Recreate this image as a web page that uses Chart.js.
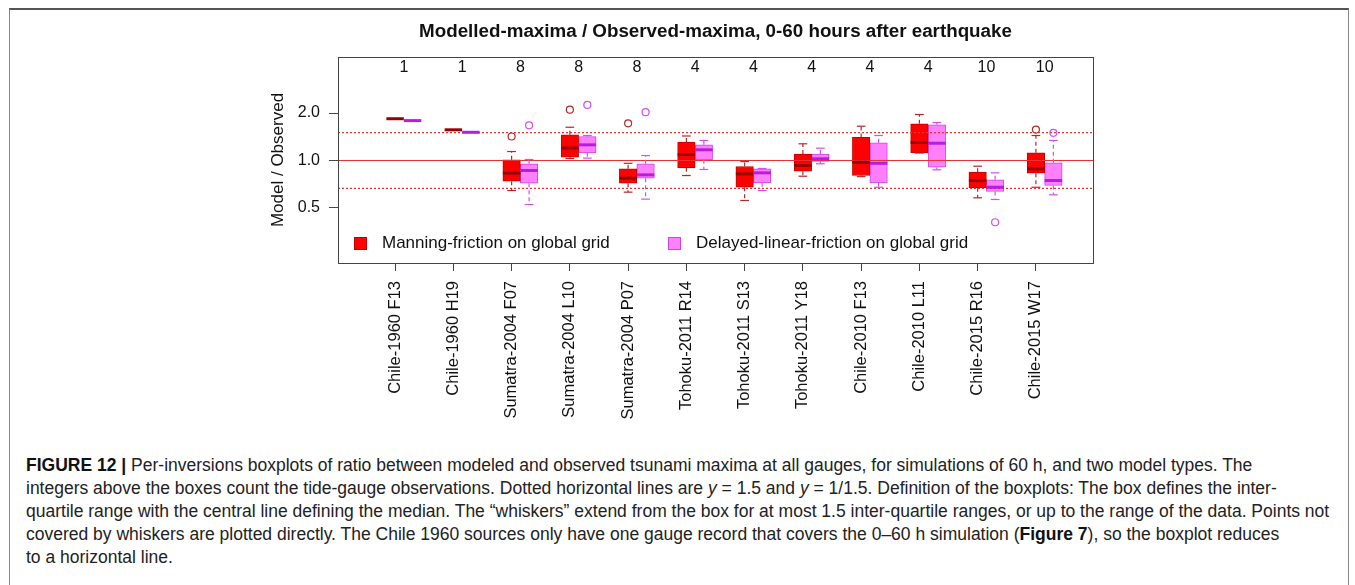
<!DOCTYPE html>
<html>
<head>
<meta charset="utf-8">
<script src="https://cdn.jsdelivr.net/npm/chart.js@4.4.1/dist/chart.umd.min.js"></script>
<style>
  html, body { margin: 0; padding: 0; background: #fff; }
  #wrap { position: relative; width: 1355px; height: 585px; overflow: hidden; }
  #frame { position: absolute; left: 9px; top: 8px; width: 1340px; height: 640px; box-sizing: border-box;
           border-left: 1px solid #888; border-right: 1px solid #888; border-top: 2px solid #555; }
  #chartBox { position: absolute; left: 0; top: 0; width: 1355px; height: 430px; }
  #caption { position: absolute; left: 26px; top: 454px; font-family: "Liberation Sans", Arial, sans-serif;
             font-size: 17.5px; line-height: 23px; color: #222; white-space: nowrap; letter-spacing: 0px; }
  #caption b { color: #111; }
</style>
</head>
<body>
<div id="wrap">
  <div id="frame"></div>
  <div id="chartBox"><canvas id="boxChart" width="1355" height="430"></canvas></div>
  <div id="caption">
    <b>FIGURE 12 |</b> Per-inversions boxplots of ratio between modeled and observed tsunami maxima at all gauges, for simulations of 60 h, and two model types. The<br>
    integers above the boxes count the tide-gauge observations. Dotted horizontal lines are <i>y</i> = 1.5 and <i>y</i> = 1/1.5. Definition of the boxplots: The box defines the inter-<br>
    quartile range with the central line defining the median. The “whiskers” extend from the box for at most 1.5 inter-quartile ranges, or up to the range of the data. Points not<br>
    covered by whiskers are plotted directly. The Chile 1960 sources only have one gauge record that covers the 0–60 h simulation (<b>Figure 7</b>), so the boxplot reduces<br>
    to a horizontal line.
  </div>
</div>
<script>
// data
const categories = ["Chile-1960 F13", "Chile-1960 H19", "Sumatra-2004 F07", "Sumatra-2004 L10",
  "Sumatra-2004 P07", "Tohoku-2011 R14", "Tohoku-2011 S13", "Tohoku-2011 Y18",
  "Chile-2010 F13", "Chile-2010 L11", "Chile-2015 R16", "Chile-2015 W17"]
const gaugeCounts = [1, 1, 8, 8, 8, 4, 4, 4, 4, 4, 10, 10]
const seriesNames = ["Manning-friction on global grid", "Delayed-linear-friction on global grid"]

const manningLow    = [1.84, 1.565, 0.645, 1.03, 0.63, 0.803, 0.558, 0.795, 0.79, 1.115, 0.58, 0.677]
const manningQ1     = [1.84, 1.565, 0.739, 1.05, 0.718, 0.899, 0.677, 0.856, 0.803, 1.119, 0.671, 0.831]
const manningMedian = [1.84, 1.565, 0.831, 1.20, 0.773, 1.09, 0.823, 0.93, 0.975, 1.30, 0.747, 0.886]
const manningQ3     = [1.84, 1.565, 1.01, 1.455, 0.886, 1.31, 0.916, 1.10, 1.40, 1.708, 0.843, 1.119]
const manningHigh   = [1.84, 1.565, 1.14, 1.625, 0.96, 1.43, 0.985, 1.276, 1.65, 1.957, 0.92, 1.44]
const manningOutliers = [[], [], [1.42], [2.10], [1.72], [], [], [], [], [], [], [1.57]]

const delayedLow    = [1.79, 1.51, 0.526, 1.035, 0.569, 0.877, 0.645, 0.953, 0.677, 0.873, 0.566, 0.606]
const delayedQ1     = [1.79, 1.51, 0.718, 1.119, 0.773, 1.01, 0.722, 0.985, 0.722, 0.907, 0.636, 0.694]
const delayedMedian = [1.79, 1.51, 0.864, 1.257, 0.811, 1.169, 0.835, 1.025, 0.96, 1.287, 0.677, 0.747]
const delayedQ3     = [1.79, 1.51, 0.953, 1.42, 0.953, 1.257, 0.886, 1.10, 1.295, 1.683, 0.754, 0.966]
const delayedHigh   = [1.79, 1.51, 1.015, 1.44, 1.075, 1.34, 0.89, 1.197, 1.44, 1.741, 0.835, 1.34]
const delayedOutliers = [[], [], [1.67], [2.25], [2.025], [], [], [], [], [], [0.406], [1.498]]

const yTickValues = [0.5, 1.0, 2.0]
const solidLines = [1.0]
const dottedLines = [1.5, 1 / 1.5]

const FONT = "'Liberation Sans', Arial, sans-serif"
const X_MIN = 0.02, X_MAX = 12.98, PAIR_SHIFT = 0.3

const series = [
  { low: manningLow, q1: manningQ1, med: manningMedian, q3: manningQ3, high: manningHigh, out: manningOutliers,
    shift: 0, fill: "#ff0000", edge: "#c40000", median: "#9a0000", whisker: "#b42828" },
  { low: delayedLow, q1: delayedQ1, med: delayedMedian, q3: delayedQ3, high: delayedHigh, out: delayedOutliers,
    shift: PAIR_SHIFT, fill: "#ff80fa", edge: "#cc44ee", median: "#b41ee0", whisker: "#d050f0" }
]

const boxSets = series.map((s, k) => ({
  type: "bar",
  label: seriesNames[k],
  data: categories.map((c, i) => ({ x: i + 1 + s.shift, y: [s.q1[i], s.q3[i]] })),
  backgroundColor: s.fill,
  borderColor: s.edge,
  borderWidth: 1,
  borderSkipped: false,
  grouped: false,
  barPercentage: 1,
  categoryPercentage: 1,
  order: 3
}))

const outlierSets = series.map((s, k) => ({
  type: "scatter",
  label: seriesNames[k] + " outliers",
  data: s.out.flatMap((vals, i) => vals.map(v => ({ x: i + 1 + s.shift, y: v }))),
  pointStyle: "circle",
  pointRadius: 3.5,
  backgroundColor: "rgba(0,0,0,0)",
  borderColor: s.whisker,
  borderWidth: 1.2,
  order: 2
}))

const refSets = solidLines.map(v => ({ v, dash: [] })).concat(dottedLines.map(v => ({ v, dash: [2, 2] })))
  .map(r => ({
    type: "line",
    label: "ref " + r.v,
    data: [{ x: X_MIN, y: r.v }, { x: X_MAX, y: r.v }],
    borderColor: "#e83232",
    borderWidth: 1.2,
    borderDash: r.dash,
    pointRadius: 0,
    order: 1
  }))

// whiskers, medians, frame, counts, legend and title
const boxExtras = {
  id: "boxExtras",
  afterDatasetsDraw(chart) {
    const { ctx, chartArea: a, scales: { x, y } } = chart
    ctx.save()
    series.forEach((s, k) => {
      const meta = chart.getDatasetMeta(k)
      meta.data.forEach((el, i) => {
        const cx = el.x, half = el.width / 2
        ctx.strokeStyle = s.whisker
        ctx.lineWidth = 1.2
        ;[[s.q3[i], s.high[i]], [s.q1[i], s.low[i]]].forEach(([from, to]) => {
          if (Math.abs(from - to) < 1e-9) return
          ctx.setLineDash([4, 3])
          ctx.beginPath()
          ctx.moveTo(cx, y.getPixelForValue(from))
          ctx.lineTo(cx, y.getPixelForValue(to))
          ctx.stroke()
          ctx.setLineDash([])
          ctx.beginPath()
          ctx.moveTo(cx - half / 2, y.getPixelForValue(to))
          ctx.lineTo(cx + half / 2, y.getPixelForValue(to))
          ctx.stroke()
        })
        ctx.strokeStyle = s.median
        ctx.lineWidth = 3
        ctx.beginPath()
        ctx.moveTo(cx - half, y.getPixelForValue(s.med[i]))
        ctx.lineTo(cx + half, y.getPixelForValue(s.med[i]))
        ctx.stroke()
      })
    })

    // plot frame
    ctx.strokeStyle = "#444"
    ctx.lineWidth = 1
    ctx.strokeRect(a.left + 0.5, a.top + 0.5, a.right - a.left, a.bottom - a.top)

    // counts above the boxes
    ctx.fillStyle = "#111"
    ctx.font = "16px " + FONT
    ctx.textAlign = "center"
    ctx.textBaseline = "middle"
    gaugeCounts.forEach((n, i) => {
      ctx.fillText(String(n), x.getPixelForValue(i + 1 + PAIR_SHIFT / 2), a.top + 11)
    })

    // legend inside plot
    const legendX = [a.left + 16, a.left + 330]
    ctx.font = "17px " + FONT
    ctx.textAlign = "left"
    series.forEach((s, k) => {
      ctx.fillStyle = s.fill
      ctx.fillRect(legendX[k], a.bottom - 26, 12, 12)
      ctx.strokeStyle = s.edge
      ctx.lineWidth = 1
      ctx.strokeRect(legendX[k] + 0.5, a.bottom - 25.5, 12, 12)
      ctx.fillStyle = "#111"
      ctx.fillText(seriesNames[k], legendX[k] + 28, a.bottom - 20)
    })

    // title
    ctx.font = "bold 18.8px " + FONT
    ctx.textAlign = "center"
    ctx.fillText("Modelled-maxima / Observed-maxima, 0-60 hours after earthquake", (a.left + a.right) / 2, 32)
    ctx.restore()
  }
}

new Chart(document.getElementById("boxChart"), {
  type: "bar",
  data: { datasets: [...boxSets, ...outlierSets, ...refSets] },
  options: {
    responsive: false,
    animation: false,
    devicePixelRatio: 1,
    layout: { padding: { left: 264, right: 262, top: 57, bottom: 0 } },
    plugins: { legend: { display: false }, tooltip: { enabled: false }, title: { display: false } },
    scales: {
      x: {
        type: "linear",
        min: X_MIN,
        max: X_MAX,
        offset: false,
        afterBuildTicks: scale => { scale.ticks = categories.map((c, i) => ({ value: i + 1 })) },
        afterFit: scale => { scale.height = 167 },
        grid: { display: true, offset: false, drawOnChartArea: false, drawTicks: true, tickLength: 8, color: "#444" },
        border: { display: false },
        ticks: {
          autoSkip: false,
          minRotation: 90,
          maxRotation: 90,
          padding: 10,
          color: "#111",
          font: { family: FONT, size: 16.5 },
          callback: v => categories[Math.round(v) - 1]
        }
      },
      y: {
        type: "logarithmic",
        min: 0.224,
        max: 4.53,
        afterBuildTicks: scale => { scale.ticks = yTickValues.map(v => ({ value: v })) },
        afterFit: scale => { scale.width = 74 },
        grid: { display: true, offset: false, drawOnChartArea: false, drawTicks: true, tickLength: 9, color: "#444" },
        border: { display: false },
        ticks: {
          padding: 9,
          color: "#111",
          font: { family: FONT, size: 16 },
          callback: v => Number(v).toFixed(1)
        },
        title: {
          display: true,
          text: "Model / Observed",
          color: "#111",
          padding: { top: 4, bottom: 0 },
          font: { family: FONT, size: 17 }
        }
      }
    }
  },
  plugins: [boxExtras]
})
</script>
</body>
</html>
